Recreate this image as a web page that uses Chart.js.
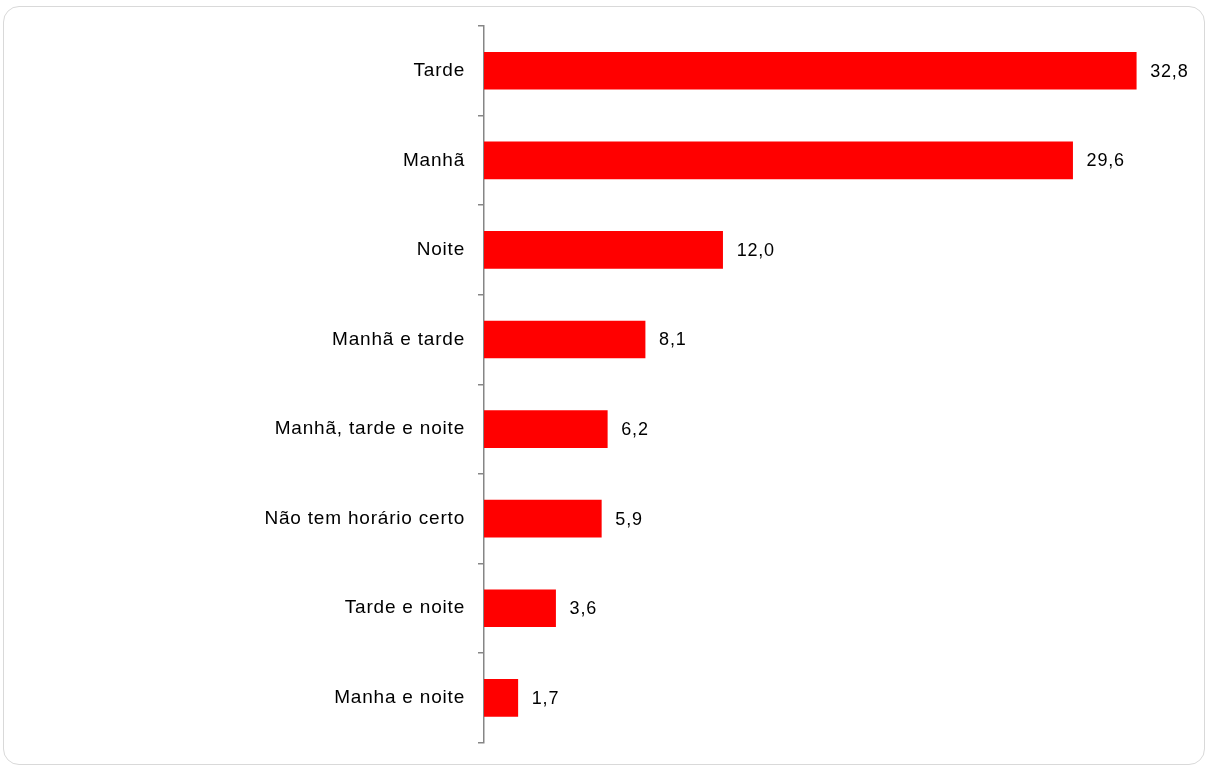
<!DOCTYPE html>
<html>
<head>
<meta charset="utf-8">
<script src="https://cdn.jsdelivr.net/npm/chart.js@4"></script>
<style>
  html, body { margin: 0; padding: 0; background: #fff; }
  #wrap { position: relative; width: 1207px; height: 767px; overflow: hidden; }
  #frame { position: absolute; left: 3px; top: 6px; width: 1200px; height: 757px;
           border: 1px solid #d9d9d9; border-radius: 16px; }
  #chartHorario { position: absolute; left: 0; top: 0; }
</style>
</head>
<body>
<div id="wrap">
  <div id="frame"></div>
  <canvas id="chartHorario" width="1207" height="767"></canvas>
</div>
<script>
// === DATA ===
const categorias = ['Tarde', 'Manhã', 'Noite', 'Manhã e tarde', 'Manhã, tarde e noite',
  'Não tem horário certo', 'Tarde e noite', 'Manha e noite'];
const percentuais = [32.8, 29.6, 12.0, 8.1, 6.2, 5.9, 3.6, 1.7];

const FONTE = '"Liberation Sans", Arial, sans-serif';

// === ESPAÇAMENTO DAS LETRAS (parecido com Calibri) ===
const espacamento = {
  id: 'espacamento',
  beforeDraw(chart) { chart.ctx.letterSpacing = '0.8px'; }
};

// === LABEL NILAI DI UJUNG BAR ===
const labelNilai = {
  id: 'labelNilai',
  afterDatasetsDraw(chart) {
    const ctx = chart.ctx;
    const meta = chart.getDatasetMeta(0);
    ctx.save();
    ctx.letterSpacing = '0.8px';
    ctx.font = '18px ' + FONTE;
    ctx.fillStyle = '#000';
    ctx.textAlign = 'left';
    ctx.textBaseline = 'middle';
    meta.data.forEach((bar, i) => {
      ctx.fillText(percentuais[i].toFixed(1).replace('.', ','), bar.x + 14, bar.y + 1);
    });
    ctx.restore();
  }
};

// === CHART ===
const ctx = document.getElementById('chartHorario').getContext('2d');
new Chart(ctx, {
  type: 'bar',
  data: {
    labels: categorias,
    datasets: [{
      data: percentuais,
      backgroundColor: '#ff0000',
      barThickness: 37
    }]
  },
  options: {
    indexAxis: 'y',
    responsive: false,
    animation: false,
    layout: { padding: { top: 26, bottom: 21, left: 0, right: 27 } },
    plugins: { legend: { display: false }, tooltip: { enabled: false } },
    scales: {
      x: { display: false, min: 0, max: 35 },
      y: {
        afterFit(scale) { scale.width = 484; },
        grid: {
          offset: true,
          drawOnChartArea: false,
          drawTicks: true,
          tickLength: 6,
          lineWidth: 1.5,
          color: '#868686'
        },
        border: { display: true, color: '#868686', width: 1.5 },
        ticks: {
          padding: 13,
          color: '#000',
          font: { family: FONTE, size: 19 }
        }
      }
    }
  },
  plugins: [espacamento, labelNilai]
});
</script>
</body>
</html>
